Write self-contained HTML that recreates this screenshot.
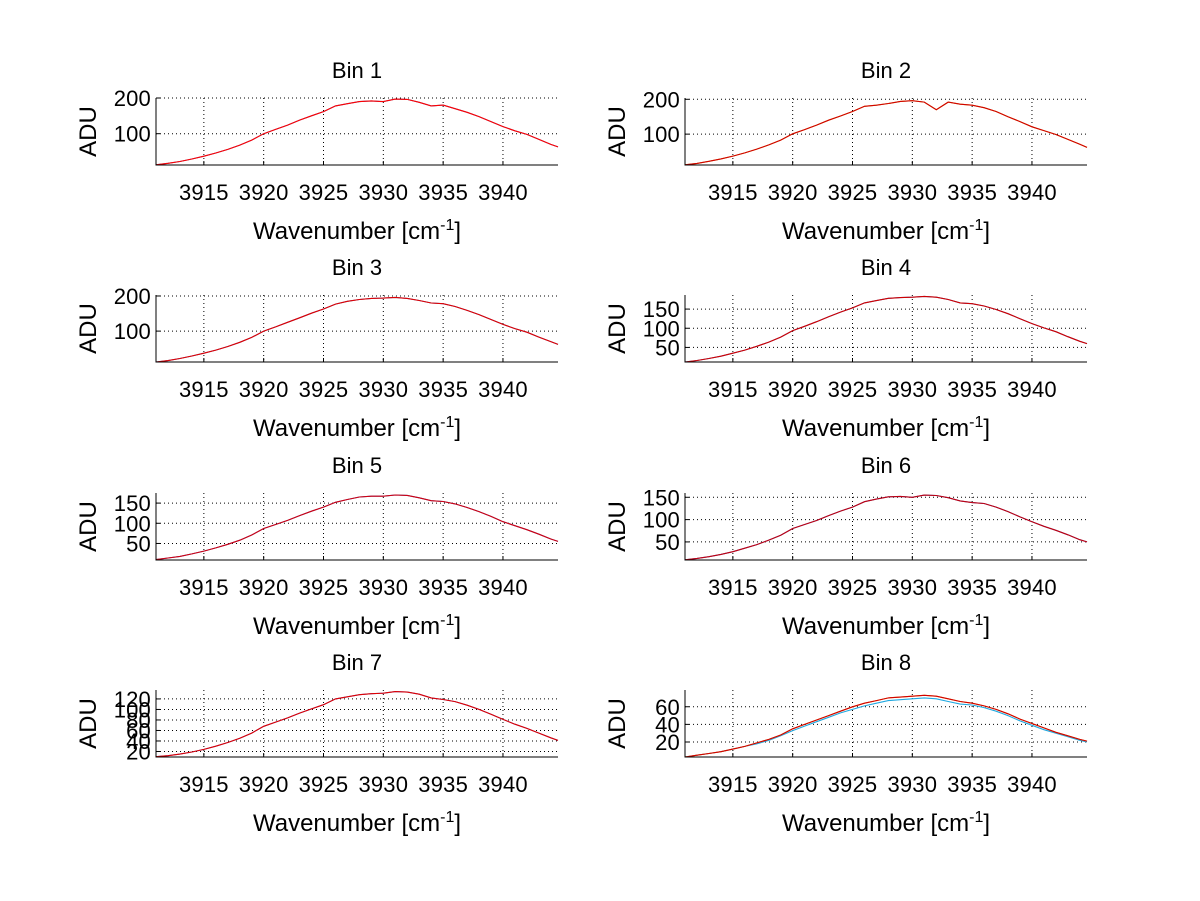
<!DOCTYPE html>
<html><head><meta charset="utf-8"><style>
html,body{margin:0;padding:0;background:#fff;}
svg{display:block;font-family:"Liberation Sans",Arial,sans-serif;}
</style></head><body>
<svg id="fig" width="1200" height="901" viewBox="0 0 1200 901"></svg>
<script>
const xs = [3911,3912,3913,3914,3915,3916,3917,3918,3919,3920,3921,3922,3923,3924,3925,3926,3927,3928,3929,3930,3931,3932,3933,3934,3935,3936,3937,3938,3939,3940,3941,3942,3943,3944,3944.6];
const bin1 = [13,17,22,29,37,46,56,68,82,100,112,124,138,150,162,178,184,190,192,190,197,196,188,178,180,170,160,148,134,120,108,98,84,70,63];
const bin2 = [12,16,22,29,37,46,57,69,83,101,113,126,140,152,165,180,183,188,194,196,192,170,192,186,183,176,165,150,136,121,110,99,85,71,62];
const bin3 = [12,16,22,29,37,46,56,68,82,100,112,125,138,151,163,177,185,190,193,194,196,193,187,180,178,170,159,147,133,119,107,97,83,70,62];
const bin4 = [12,16,21,27,35,43,53,64,77,94,105,117,130,142,153,166,172,178,180,181,183,181,175,166,164,158,149,138,125,112,101,91,78,66,60];
const bin5 = [10,14,18,24,31,39,48,58,71,87,97,107,119,130,140,152,159,165,167,167,170,169,163,156,154,148,139,129,117,104,94,84,73,61,55];
const bin6 = [10,13,17,22,28,36,44,54,65,80,89,98,109,119,128,140,146,151,152,150,155,154,149,142,138,136,128,118,106,95,85,76,66,55,50];
const bin7 = [10,12,15,19,24,30,37,45,55,68,76,84,93,101,109,120,124,128,130,131,134,133,129,122,119,115,108,100,91,81,72,64,55,46,41];
const bin8a = [3,5,7,9,12,15,19,23,28,35,40,45,50,55,60,64,67,70,71,72,73,72,69,66,64,61,57,52,46,41,36,31,27,23,21];
const bin8b = [3,5,7,9,12,15,18,22,27,33,38,43,48,53,57,61,64,67,68,69,70,69,66,63,62,59,55,50,44,39,34,30,26,22,20];
const titles = ["Bin 1","Bin 2","Bin 3","Bin 4","Bin 5","Bin 6","Bin 7","Bin 8"];
const yTicks = [[100,200],[100,200],[100,200],[50,100,150],[50,100,150],[50,100,150],[20,40,60,80,100,120],[20,40,60]];
const xTicks = [3915,3920,3925,3930,3935,3940];

const NS="http://www.w3.org/2000/svg";
const svg=document.getElementById('fig');
function mk(tag,attrs,parent){const e=document.createElementNS(NS,tag);for(const k in attrs)e.setAttribute(k,attrs[k]);(parent||svg).appendChild(e);return e;}

const panels=[
 {x0:156,x1:558,top:98,yl:[12.3,200],series:[[bin1,'#4060c0'],[bin1,'#ff0000']]},
 {x0:685,x1:1087,top:98,yl:[11.4,203.7],series:[[bin2,'#e0a000'],[bin2,'#d00000']]},
 {x0:156,x1:558,top:295,yl:[12,202.8],series:[[bin3,'#4060c0'],[bin3,'#e00000']]},
 {x0:685,x1:1087,top:295,yl:[12,186.7],series:[[bin4,'#4060c0'],[bin4,'#d00000']]},
 {x0:156,x1:558,top:493,yl:[9,175],series:[[bin5,'#4060c0'],[bin5,'#d00010']]},
 {x0:685,x1:1087,top:493,yl:[9.5,159.6],series:[[bin6,'#4060c0'],[bin6,'#c00010']]},
 {x0:156,x1:558,top:690,yl:[9.5,137],series:[[bin7,'#4060e0'],[bin7,'#e00000']]},
 {x0:685,x1:1087,top:690,yl:[3,79],series:[[bin8b,'#20a8e0'],[bin8a,'#ff9900'],[bin8a,'#d00000']]}
];
const H=67, XMIN=3911, XMAX=3944.6;

panels.forEach((p,i)=>{
  const g=mk('g',{});
  
  
  const bottom=p.top+H;
  const sx=v=>p.x0+(v-XMIN)/(XMAX-XMIN)*(p.x1-p.x0);
  const sy=v=>bottom-(v-p.yl[0])/(p.yl[1]-p.yl[0])*H;
  xTicks.forEach(t=>{
    const l=mk('line',{x1:sx(t),x2:sx(t),y1:p.top,y2:bottom,stroke:'#000','stroke-width':1,'stroke-dasharray':'1,3'},g);
    
    
    mk('line',{x1:sx(t),x2:sx(t),y1:bottom,y2:bottom-4,stroke:'#000'},g);
    const tx=mk('text',{x:sx(t),y:bottom+35,'text-anchor':'middle','font-size':22,'letter-spacing':0.2},g);
    tx.textContent=t;
    
    
  });
  yTicks[i].forEach(t=>{
    const l=mk('line',{x1:p.x0,x2:p.x1,y1:sy(t),y2:sy(t),stroke:'#000','stroke-width':1,'stroke-dasharray':'1,3'},g);
    
    
    mk('line',{x1:p.x0,x2:p.x0+4,y1:sy(t),y2:sy(t),stroke:'#000'},g);
    const tx=mk('text',{x:p.x0-5,y:sy(t)+8,'text-anchor':'end','font-size':22,'letter-spacing':0.2},g);
    tx.textContent=t;
    
    
  });
  p.series.forEach((s,k)=>{
    const d=s[0].map((v,j)=>(j?'L':'M')+sx(xs[j]).toFixed(1)+','+sy(v).toFixed(1)).join('');
    const path=mk('path',{d:d,fill:'none',stroke:s[1],'stroke-width':1.1},g);
    
    
  });
  const ax=mk('path',{d:`M${p.x0},${p.top}V${bottom}H${p.x1}`,fill:'none',stroke:'#000','stroke-width':1},g);
  
  
  const cx=(p.x0+p.x1)/2;
  const ti=mk('text',{x:cx,y:p.top-20,'text-anchor':'middle','font-size':22},g);
  ti.textContent=titles[i];
  
  
  const xl=mk('text',{x:cx,y:bottom+74,'text-anchor':'middle','font-size':24},g);
  xl.innerHTML='Wavenumber [cm<tspan dy="-9" font-size="16">-1</tspan><tspan dy="9">]</tspan>';
  
  
  const yx=p.x0-60, yy=p.top+H/2;
  const yl=mk('text',{x:yx,y:yy,'text-anchor':'middle','font-size':24,transform:`rotate(-90 ${yx} ${yy})`},g);
  yl.textContent='ADU';
  
  
});
</script>
</body></html>
